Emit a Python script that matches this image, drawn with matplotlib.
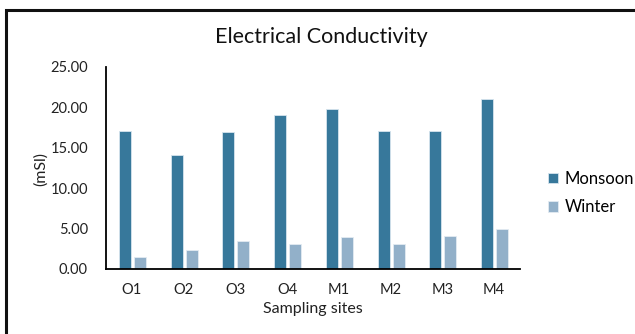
import numpy as np
import matplotlib
matplotlib.use('Agg')
from matplotlib import pyplot as plt
from matplotlib.patches import Rectangle

sites = ['O1', 'O2', 'O3', 'O4', 'M1', 'M2', 'M3', 'M4']
monsoon = [17.1, 14.1, 16.95, 19.0, 19.75, 17.05, 17.05, 21.05]
winter = [1.45, 2.35, 3.45, 3.1, 4.0, 3.1, 4.1, 4.95]

plt.rcParams['font.family'] = ['Lato', 'DejaVu Sans']

W, H = 635, 334
fig = plt.figure(figsize=(W / 100, H / 100), dpi=100)
ax = fig.add_axes([106 / W, (H - 269) / H, (520 - 106) / W, (269 - 67) / H])

x = np.arange(len(sites))
bw = 0.235
ax.bar(x - 0.135, monsoon, bw, color='#37789b', edgecolor='#d6e4ee', linewidth=0.6, label='Monsoon')
ax.bar(x + 0.155, winter, bw, color='#92b0c9', edgecolor='#e3ebf2', linewidth=0.6, label='Winter')

ax.set_xlim(-0.5, len(sites) - 0.5)
ax.set_ylim(0, 25)
ax.set_yticks([0, 5, 10, 15, 20, 25])
ax.set_yticklabels(['%.2f' % v for v in [0, 5, 10, 15, 20, 25]], fontsize=10.5, color='#222222')
ax.set_xticks(x)
ax.set_xticklabels(sites, fontsize=10.5, color='#222222')
ax.tick_params(axis='x', length=0, pad=10)
ax.tick_params(axis='y', length=0, pad=13)
for s in ['top', 'right']:
    ax.spines[s].set_visible(False)
ax.spines['left'].set_linewidth(1.3)
ax.spines['bottom'].set_linewidth(1.3)

fig.text(321 / W, 1 - 37 / H, 'Electrical Conductivity', ha='center', va='center', fontsize=15.5, color='#111111')
fig.text(313 / W, 1 - 309 / H, 'Sampling sites', ha='center', va='center', fontsize=11.5, color='#222222')
fig.text(41 / W, 1 - 169 / H, '(mSl)', ha='center', va='center', rotation=90, fontsize=11.5, color='#222222')

leg = ax.legend(loc='center left', bbox_to_anchor=(533 / W, 1 - 193 / H), bbox_transform=fig.transFigure,
                frameon=False, fontsize=12, handlelength=0.6, handleheight=0.6, handletextpad=0.4,
                labelspacing=0.75)

fig.patches.append(Rectangle((6 / W, 0 - 0.5), 2, 1.5 - 10 / H, transform=fig.transFigure,
                             fill=False, edgecolor='#111111', linewidth=2.2))

fig.savefig('out.png', dpi=100)
